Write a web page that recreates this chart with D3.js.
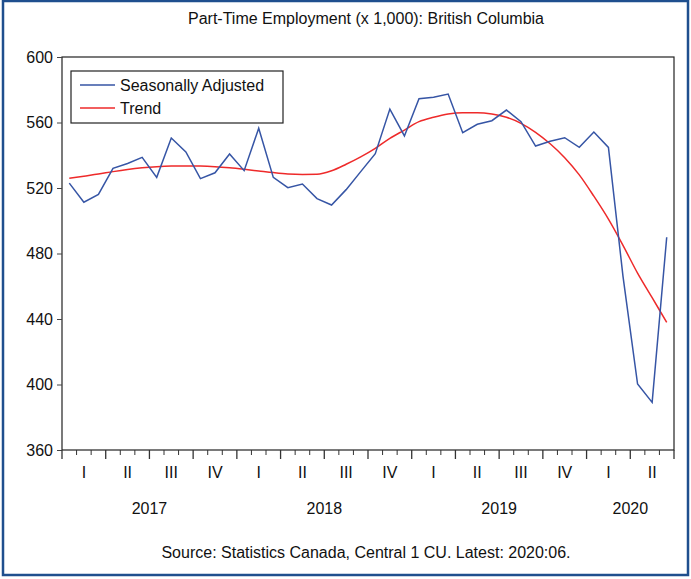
<!DOCTYPE html>
<html>
<head>
<meta charset="utf-8">
<script src="https://cdn.jsdelivr.net/npm/d3@7"></script>
<style>
  body { margin: 0; background: #fff; }
  text { font-family: "Liberation Sans", Arial, sans-serif; fill: #111; }
</style>
</head>
<body>
<svg></svg>
<script>
var width = 691;
var height = 579;

// monthly, 2017:01 .. 2020:06
var startMonth = "2017-01";
var seasonallyAdjusted = [523, 511.3, 516.1, 532, 535, 538.7, 526.5, 550.5, 542, 525.7,
  529.3, 540.8, 530.6, 556.5, 526.5, 520.2, 522.4, 513.5, 509.6, 519,
  530, 541, 568.2, 551.8, 574.5, 575.4, 577.4, 553.8, 558.9, 561.1,
  567.6, 560.5, 545.6, 548.5, 550.7, 544.8, 554.2, 544.8, 466, 400.3,
  389.1, 489.9];
var trend = [525.9, 527.2, 528.5, 530, 531.3, 532.3, 533, 533.4, 533.5, 533.4,
  533, 532.3, 531.4, 530.4, 529.4, 528.6, 528.3, 528.4, 530.5, 534.5,
  539, 544.2, 550.3, 555.4, 560.5, 563.2, 565.2, 566, 566, 565.2,
  563.2, 559.5, 554, 547, 538.5, 528, 515, 501, 485, 468,
  453, 438];
var quarterLabels = ["I", "II", "III", "IV"];
var years = ["2017", "2018", "2019", "2020"];
var yTicks = [360, 400, 440, 480, 520, 560, 600];

var margin = {left: 62, right: 17, top: 57, bottom: 129};
var n = seasonallyAdjusted.length;

var svg = d3.select('svg')
    .attr('width', width)
    .attr('height', height);

// outer blue frame
svg.append('rect')
    .attr('x', 3).attr('y', 1)
    .attr('width', 685).attr('height', 574)
    .attr('fill', 'none')
    .attr('stroke', '#1f4f8e')
    .attr('stroke-width', 2.5);

var x = d3.scaleLinear()
    .domain([0, n])
    .range([margin.left, width - margin.right]);
var y = d3.scaleLinear()
    .domain([360, 600])
    .range([height - margin.bottom, margin.top]);

// title
svg.append('text')
    .attr('x', 366).attr('y', 24)
    .attr('text-anchor', 'middle')
    .style('font-size', '16px')
    .text('Part-Time Employment (x 1,000): British Columbia');

// plot frame
svg.append('rect')
    .attr('x', x(0)).attr('y', y(600))
    .attr('width', x(n) - x(0)).attr('height', y(360) - y(600))
    .attr('fill', 'none')
    .attr('stroke', '#222')
    .attr('stroke-width', 1.2);

// y axis
svg.append('g')
    .attr('transform', 'translate(' + x(0) + ',0)')
    .call(d3.axisLeft(y).tickValues(yTicks).tickSize(5).tickPadding(4))
    .call(g => g.select('.domain').remove())
    .call(g => g.selectAll('text').style('font-size', '16px').attr('fill', '#111'))
    .call(g => g.selectAll('line').attr('stroke', '#444'));

// x axis: month ticks, longer at quarters
var monthIdx = d3.range(n + 1);
svg.append('g')
    .attr('class', 'xticks')
    .selectAll('line')
    .data(monthIdx)
    .enter()
    .append('line')
      .attr('x1', d => x(d)).attr('x2', d => x(d))
      .attr('y1', y(360))
      .attr('y2', d => y(360) + (d % 3 === 0 ? 9 : 5))
      .attr('stroke', '#333')
      .attr('stroke-width', d => d % 3 === 0 ? 1.3 : 1);

var quarters = d3.range(n / 3);
svg.append('g')
    .selectAll('text')
    .data(quarters)
    .enter()
    .append('text')
      .attr('x', d => x(d * 3 + 1.5))
      .attr('y', 478)
      .attr('text-anchor', 'middle')
      .style('font-size', '16px')
      .text(d => quarterLabels[d % 4]);

svg.append('g')
    .selectAll('text')
    .data(years)
    .enter()
    .append('text')
      .attr('x', (d, i) => i < 3 ? x(i * 12 + 6) : x(36 + (n - 36) / 2))
      .attr('y', 514)
      .attr('text-anchor', 'middle')
      .style('font-size', '16px')
      .text(d => d);

// lines
var line = d3.line()
    .x((d, i) => x(i + 0.5))
    .y(d => y(d));

svg.append('path')
    .datum(trend)
    .attr('fill', 'none')
    .attr('stroke', '#ee2a2a')
    .attr('stroke-width', 1.5)
    .attr('d', line.curve(d3.curveMonotoneX));

svg.append('path')
    .datum(seasonallyAdjusted)
    .attr('fill', 'none')
    .attr('stroke', '#3655a5')
    .attr('stroke-width', 1.5)
    .attr('d', line.curve(d3.curveLinear));

// legend
var legend = svg.append('g');
legend.append('rect')
    .attr('x', 71).attr('y', 71)
    .attr('width', 212).attr('height', 52)
    .attr('fill', '#fff')
    .attr('stroke', '#222')
    .attr('stroke-width', 1.2);
var legendItems = [
  {name: 'Seasonally Adjusted', color: '#3655a5'},
  {name: 'Trend', color: '#ee2a2a'}
];
legendItems.forEach(function(item, i) {
  var ly = 85 + i * 23;
  legend.append('line')
      .attr('x1', 80).attr('x2', 115)
      .attr('y1', ly).attr('y2', ly)
      .attr('stroke', item.color)
      .attr('stroke-width', 1.5);
  legend.append('text')
      .attr('x', 120).attr('y', ly + 6)
      .style('font-size', '16px')
      .text(item.name);
});

// source note
svg.append('text')
    .attr('x', 366).attr('y', 558)
    .attr('text-anchor', 'middle')
    .style('font-size', '16px')
    .text('Source: Statistics Canada, Central 1 CU. Latest: 2020:06.');
</script>
</body>
</html>
